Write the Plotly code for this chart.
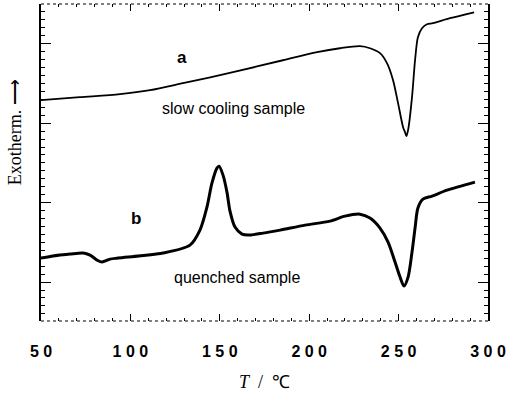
import plotly.graph_objects as go

# DSC traces (temperature in degC, heat flow in arbitrary units, exotherm up)
t_slow = [50.0, 71.8, 94.2, 111.0, 129.4, 157.4, 185.3, 204.4, 217.2, 228.4, 234.0,
          239.6, 243.5, 246.9, 249.7, 252.5, 253.6, 254.4, 255.5, 257.5, 259.2,
          260.8, 263.1, 265.9, 269.2, 278.7, 292.2]
q_slow = [22.89, 23.27, 23.65, 24.15, 25.03, 26.42, 27.92, 28.93, 29.43, 29.69, 29.43,
          28.81, 27.55, 25.41, 22.52, 19.50, 18.87, 18.36, 19.37, 23.27, 27.92,
          30.82, 31.95, 32.45, 32.58, 33.21, 33.96]

t_quench = [50.0, 60.6, 66.2, 73.5, 77.4, 81.3, 84.1, 88.6, 93.1, 118.2, 133.3,
            138.9, 142.8, 145.6, 148.4, 149.6, 151.8, 154.0, 155.7, 158.5, 162.4,
            165.8, 174.2, 183.7, 197.7, 211.6, 220.0, 228.4, 234.0, 239.6, 244.1,
            248.0, 250.8, 253.0, 255.3, 257.5, 259.2, 260.8, 263.6, 268.7, 277.1, 292.7]
q_quench = [3.02, 3.40, 3.52, 3.65, 3.40, 2.77, 2.52, 2.89, 3.02, 3.65, 4.65,
            6.54, 9.43, 12.45, 14.34, 14.59, 13.46, 11.32, 8.93, 6.92, 6.04,
            5.91, 6.16, 6.54, 7.17, 7.67, 8.30, 8.55, 8.05, 6.79, 5.03,
            2.52, 0.63, -0.50, 0.63, 3.77, 6.79, 9.31, 10.44, 10.82, 11.57, 12.58]

tick_vals = [50, 100, 150, 200, 250, 300]
tick_labels = ["5 0", "1 0 0", "1 5 0", "2 0 0", "2 5 0", "3 0 0"]

fig = go.Figure()
fig.add_trace(go.Scatter(x=t_slow, y=q_slow, mode="lines",
                         line=dict(color="black", width=1.8, shape="spline", smoothing=0.8)))
fig.add_trace(go.Scatter(x=t_quench, y=q_quench, mode="lines",
                         line=dict(color="black", width=3, shape="spline", smoothing=0.8)))

sans = "Liberation Sans, Arial, sans-serif"
serif = "Liberation Serif, Times New Roman, serif"

fig.update_layout(
    width=518, height=393,
    margin=dict(l=41, r=30, t=4, b=72),
    paper_bgcolor="white", plot_bgcolor="white",
    showlegend=False,
    xaxis=dict(
        range=[50, 300], tickmode="array", tickvals=tick_vals,
        ticktext=["<b>%s</b>" % s for s in tick_labels],
        tickfont=dict(family=sans, size=16, color="black"),
        ticks="inside", ticklen=7, tickcolor="black", tickwidth=1,
        minor=dict(dtick=10, ticks="inside", ticklen=3, tickcolor="black"),
        showline=False, mirror="ticks", showgrid=False, zeroline=False,
        ticklabelstandoff=19,
    ),
    yaxis=dict(
        range=[-4.9, 35.0], tickvals=[0, 10, 20, 30], showticklabels=False,
        ticks="inside", ticklen=10, tickcolor="black", tickwidth=1,
        minor=dict(dtick=1, ticks="inside", ticklen=4, tickcolor="black"),
        showline=True, linecolor="black", linewidth=1.5, mirror="ticks",
        showgrid=False, zeroline=False,
    ),
    annotations=[
        dict(x=128.9, y=28.3, text="<b>a</b>", showarrow=False,
             font=dict(family=sans, size=17, color="black")),
        dict(x=157.4, y=21.9, text="slow cooling sample", showarrow=False,
             font=dict(family=sans, size=16, color="black")),
        dict(x=103.1, y=8.05, text="<b>b</b>", showarrow=False,
             font=dict(family=sans, size=17, color="black")),
        dict(x=159.6, y=0.63, text="quenched sample", showarrow=False,
             font=dict(family=sans, size=16, color="black")),
        dict(xref="paper", yref="paper", x=-0.058, y=0.596, text="Exotherm. \u27f6",
             textangle=-90, showarrow=False, xanchor="center", yanchor="middle",
             font=dict(family=serif, size=18, color="black")),
        dict(xref="paper", yref="paper", x=0.5, y=-0.192, text="<i>T</i>  /  ℃",
             showarrow=False, xanchor="center", yanchor="middle",
             font=dict(family=serif, size=18, color="black")),
    ],
    shapes=[
        dict(type="line", xref="paper", yref="paper", x0=0, x1=1, y0=0, y1=0,
             line=dict(color="black", width=1, dash="dot")),
        dict(type="line", xref="paper", yref="paper", x0=0, x1=1, y0=1, y1=1,
             line=dict(color="black", width=1, dash="dot")),
    ],
)

fig.write_html("out.html")
